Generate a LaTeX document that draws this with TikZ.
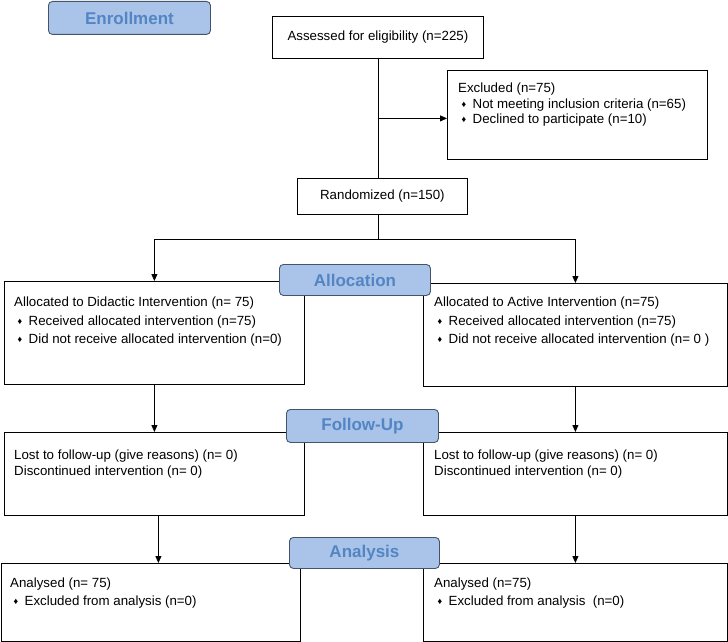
\documentclass[tikz,border=0pt]{standalone}
\usepackage{fontspec}
\setmainfont{Liberation Sans}
\usetikzlibrary{arrows.meta,positioning,calc}
\definecolor{hdrfill}{HTML}{A9C4E8}
\definecolor{hdrline}{HTML}{44556B}
\definecolor{hdrtext}{HTML}{5385C4}
\newcommand{\bul}{\hspace*{3.5pt}\makebox[11pt][l]{\raisebox{1pt}{\fontsize{9}{9}\selectfont ♦}}}

\begin{document}
\begin{tikzpicture}[x=1pt,y=-1pt,font=\fontsize{13.3}{15.5}\selectfont,
    box/.style={rectangle,draw=black,line width=0.8pt,inner sep=0pt,anchor=north west},
    hdr/.style={rectangle,rounded corners=4pt,draw=hdrline,fill=hdrfill,line width=0.9pt,inner sep=0pt,
                anchor=north west,text=hdrtext,font=\fontsize{17}{17}\selectfont\bfseries},
    txt/.style={align=left,inner sep=0pt,anchor=north west},
    arr/.style={-{Triangle[width=6pt,length=7pt]},line width=0.8pt},
    ln/.style={line width=0.8pt}]
    \useasboundingbox (0,0) rectangle (728,642);

    % boxes
      \node[box,minimum width=211pt,minimum height=42pt] (assess) at (272,16) {Assessed for eligibility (n=225)};
      \node[box,minimum width=260pt,minimum height=89pt] (excl) at (447,70) {};
      \node[box,minimum width=170pt,minimum height=36pt] (rand) at (297,178) {Randomized (n=150)};

      \node[box,minimum width=300pt,minimum height=103pt] (allocL) at (4,281) {};
      \node[box,minimum width=304pt,minimum height=103pt] (allocR) at (423,283) {};
      \node[box,minimum width=300pt,minimum height=83pt] (fuL) at (4,432) {};
      \node[box,minimum width=304pt,minimum height=83pt] (fuR) at (423,432) {};
      \node[box,minimum width=299.5pt,minimum height=78pt] (anL) at (0.5,563) {};
      \node[box,minimum width=304pt,minimum height=78pt] (anR) at (423,563) {};

    % box texts
      \node[txt] (excltxt) at (458,83) {Excluded (n=75)\\ \bul Not meeting inclusion criteria (n=65)\\ \bul Declined to participate (n=10)};
      \node[txt] (allocLtxt) at (14,297) {Allocated to Didactic Intervention (n= 75)\\[3pt] \bul Received allocated intervention (n=75)\\[3pt] \bul Did not receive allocated intervention (n=0)};
      \node[txt] (allocRtxt) at (434,297) {Allocated to Active Intervention (n=75)\\[3pt] \bul Received allocated intervention (n=75)\\[3pt] \bul Did not receive allocated intervention (n= 0 )};
      \node[txt] (fuLtxt) at (14,450) {Lost to follow-up (give reasons) (n= 0)\\ Discontinued intervention (n= 0)};
      \node[txt] (fuRtxt) at (434,450) {Lost to follow-up (give reasons) (n= 0)\\ Discontinued intervention (n= 0)};
      \node[txt] (anLtxt) at (10,578) {Analysed (n= 75)\\[2.5pt] \bul Excluded from analysis (n=0)};
      \node[txt] (anRtxt) at (434,578) {Analysed (n=75)\\[2.5pt] \bul Excluded from analysis~ (n=0)};

    % connections
      \draw[ln] (assess.south) -- (assess.south |- rand.north);
      \coordinate (exclsplit) at ($(assess.south)!0.5!(assess.south |- rand.north)$);
      \draw[arr] (exclsplit) -- (exclsplit -| excl.west);
      \draw[ln] (assess.south |- rand.south) -- ++(0,25) coordinate (branch);
      \draw[arr] (branch) -| (allocL.north);
      \draw[arr] (branch) -| (allocR.north);
      \draw[arr] (allocL.south) -- (fuL.north);
      \draw[arr] (allocR.south) -- (allocR.south |- fuR.north);
      \draw[arr] ([xshift=4pt]fuL.south) -- ([xshift=4pt]fuL.south |- anL.north);
      \draw[arr] (fuR.south) -- (fuR.south |- anR.north);

    % stage headers
      \node[hdr,minimum width=162pt,minimum height=33pt] (enrol) at (48,1) {Enrollment};
      \node[hdr,minimum width=151pt,minimum height=31pt] (alloc) at (279,264) {Allocation};
      \node[hdr,minimum width=152pt,minimum height=33pt] (fu) at (286,409) {Follow-Up};
      \node[hdr,minimum width=150pt,minimum height=31pt] (an) at (289,537) {Analysis};

\end{tikzpicture}
\end{document}
